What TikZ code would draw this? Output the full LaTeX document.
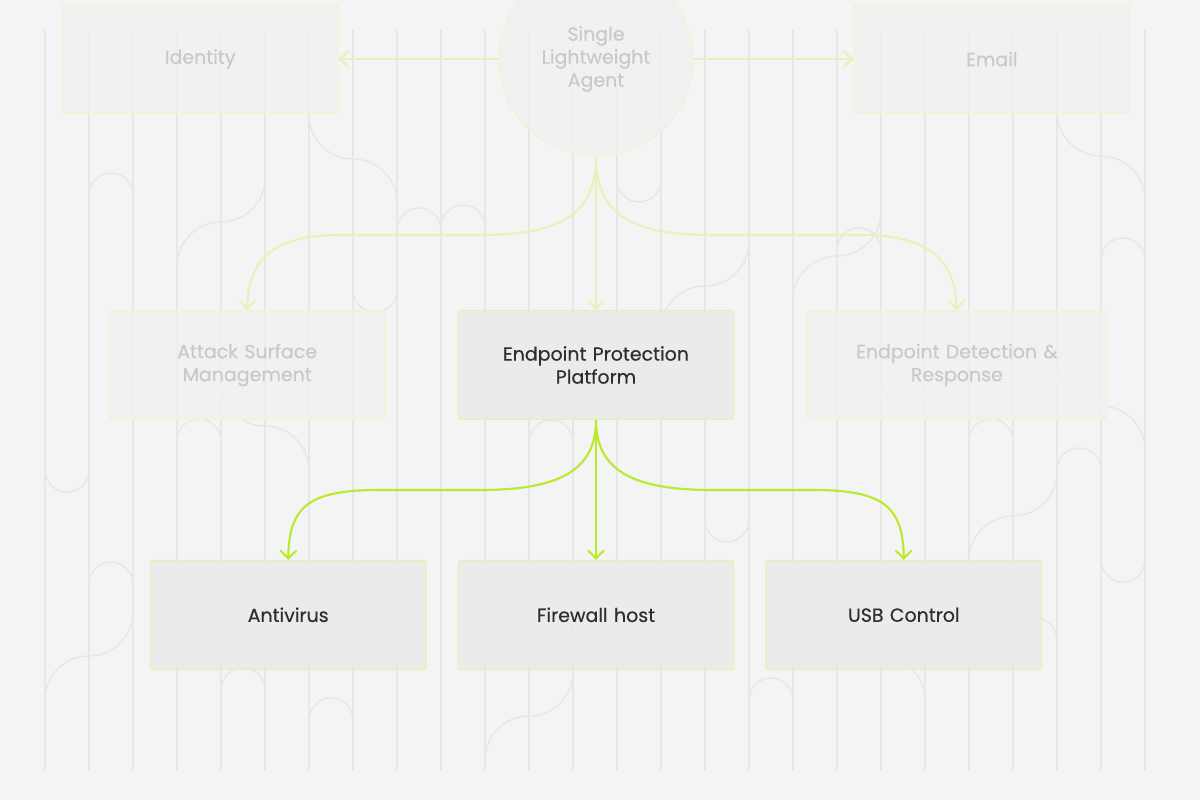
\documentclass[tikz,border=0pt]{standalone}
\usepackage{fontspec}
\setmainfont{Poppins}
\newfontfamily\medfont{Poppins}[FakeBold=0.35]
\usetikzlibrary{arrows.meta,positioning}
\definecolor{bgc}{HTML}{F4F4F4}
\definecolor{pat}{HTML}{E7E7E7}
\definecolor{lime}{HTML}{B9EA2C}
\definecolor{limefade}{HTML}{E5F2BC}
\definecolor{boxfill}{HTML}{EAEAEA}
\definecolor{fadefill}{HTML}{F1F1F1}
\definecolor{txt}{HTML}{2E2E2E}
\definecolor{fadetxt}{HTML}{C9C9C9}
\tikzset{
  card/.style={draw=lime!45, fill=boxfill, fill opacity=.85, text opacity=1, rounded corners=1pt, minimum width=5.52cm, minimum height=2.18cm, text width=5cm, align=center, text=txt, font=\medfont\fontsize{10.8}{13.1}\selectfont, line width=.5pt},
  ghost/.style={card, draw=limefade!80, fill=fadefill, fill opacity=.7, text=fadetxt},
  agentnode/.style={circle, draw=limefade!80, fill=fadefill, fill opacity=.7, text opacity=1, minimum size=3.88cm, align=center, text=fadetxt, font=\medfont\fontsize{10.8}{13.1}\selectfont, line width=.5pt},
  arr/.style={-{Straight Barb[length=1.6mm, width=3.2mm]}, draw=lime, line width=1.2pt},
  farr/.style={arr, draw=limefade},
  pat/.style={draw=pat, line width=.8pt},
}
\begin{document}
\begin{tikzpicture}[x=0.02cm, y=-0.02cm, node distance=2.8cm and 1.44cm]
\fill[bgc] (0,0) rectangle (1200,800);
\useasboundingbox (0,0) rectangle (1200,800);

% background pattern
\foreach \k in {0,...,25}
  \draw[pat] ({45+44*\k},30) -- ({45+44*\k},770);
\foreach \x/\y in {89/195,177/441,89/584,529/442,969/441,441/227,1057/470,397/230,1101/260,221/690,661/600,837/250,749/700,1013/640,309/720}
  \draw[pat] (\x,\y) arc[start angle=180, end angle=0, radius=.44cm];
\foreach \x/\y in {45/470,353/290,617/180,881/380,705/520,265/640,1101/560}
  \draw[pat] (\x,\y) arc[start angle=180, end angle=360, radius=.44cm];
\foreach \x/\y in {177/266,661/330,793/300,45/700,969/560,485/760}
  \draw[pat] (\x,\y) arc[start angle=180, end angle=90, radius=.88cm] arc[start angle=270, end angle=360, radius=.88cm];
\foreach \x/\y in {397/203,1145/200,925/700,573/640,309/470,1145/450}
  \draw[pat] (\x,\y) arc[start angle=0, end angle=90, radius=.88cm] arc[start angle=270, end angle=180, radius=.88cm];

% nodes
\node[agentnode] (agent) at (596,59) {Single\\Lightweight\\Agent};
\node[ghost, left=3.2cm of agent] (ident) {Identity};
\node[ghost, right=3.2cm of agent] (mail) {Email};
\node[card] (epp) at (596,365) {Endpoint Protection\\Platform};
\node[ghost, left=of epp] (asm) {Attack Surface\\Management};
\node[ghost, right=of epp, minimum width=6cm] (edr) {Endpoint Detection \&\\Response};
\node[card, below=of epp] (fw) {Firewall host};
\node[card, left=0.62cm of fw] (av) {Antivirus};
\node[card, right=0.62cm of fw] (usb) {USB Control};

% faded links
\draw[farr] (agent.west) -- (ident.east);
\draw[farr] (agent.east) -- (mail.west);
\draw[farr] (agent.south) -- (epp.north);
\draw[farr] (agent.south) .. controls (596,215) and (560,235) .. (480,235) -- (340,235) .. controls (270,235) and (248,262) .. (asm.north);
\draw[farr] (agent.south) .. controls (596,215) and (632,235) .. (712,235) -- (860,235) .. controls (932,235) and (955,262) .. (edr.north);

% active links
\draw[arr] (epp.south) -- (fw.north);
\draw[arr] (epp.south) .. controls (596,470) and (560,490) .. (480,490) -- (380,490) .. controls (310,490) and (289,505) .. (av.north);
\draw[arr] (epp.south) .. controls (596,470) and (632,490) .. (712,490) -- (812,490) .. controls (882,490) and (903,505) .. (usb.north);
\end{tikzpicture}
\end{document}
